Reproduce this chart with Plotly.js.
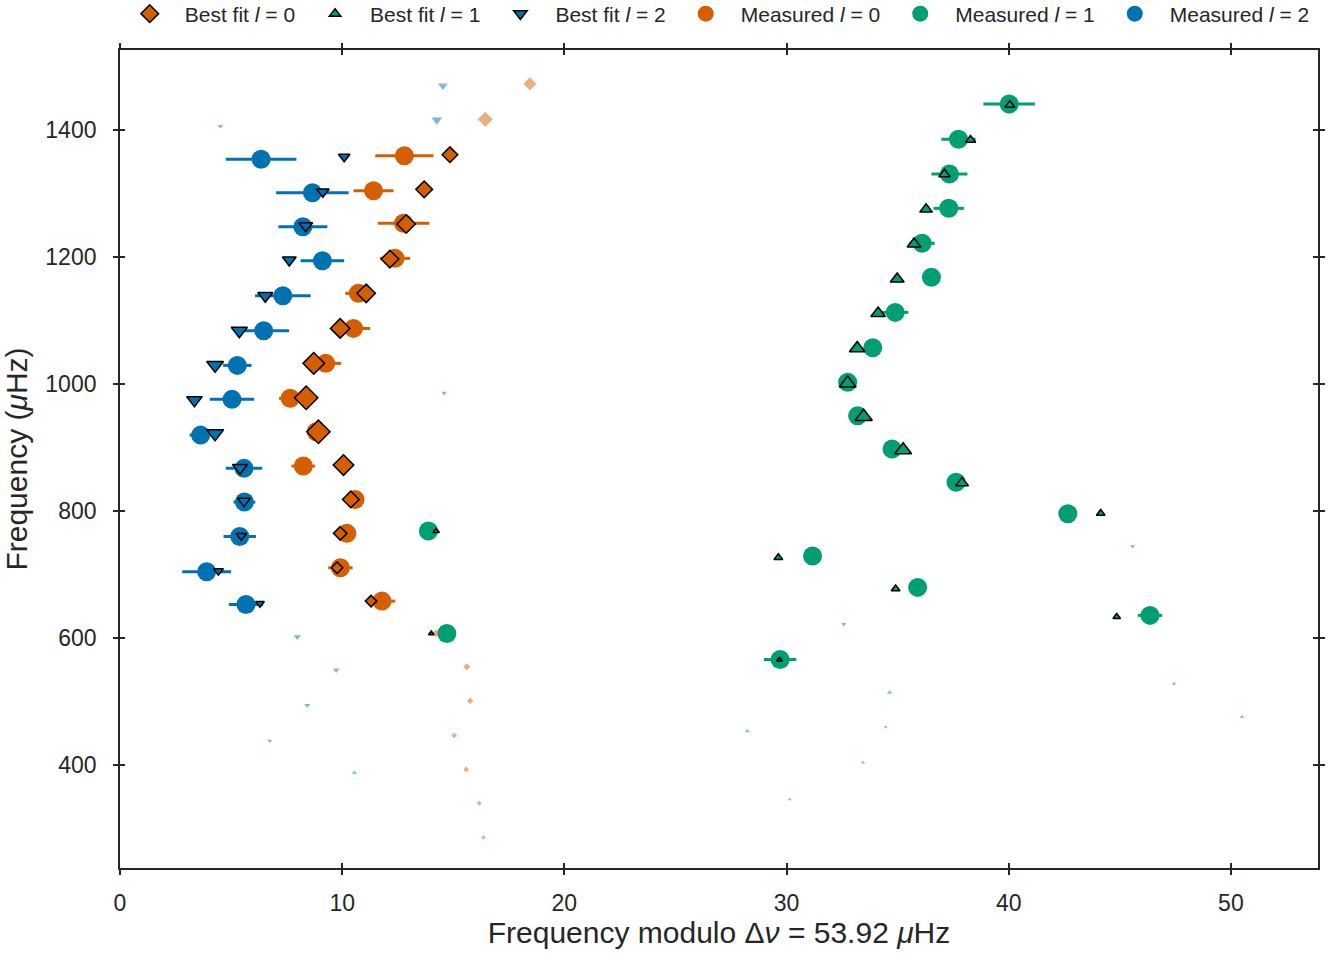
<!DOCTYPE html>
<html>
<head>
<meta charset="utf-8">
<script src="https://cdn.plot.ly/plotly-3.0.1.min.js"></script>
<style>html,body{margin:0;padding:0;background:#fff;}#chart{width:1331px;height:954px;}</style>
</head>
<body>
<div id="chart"></div>
<script>
// ---------- data (frequency modulo Δν, frequency in μHz) ----------
const deltaNu = 53.92;

// Measured l = 0
const measL0_x = [12.80, 11.41, 12.76, 12.38, 10.73, 10.51, 9.26, 7.66, 8.83, 8.25, 10.58, 10.21, 9.92, 11.79];
const measL0_y = [1360.0, 1304.8, 1253.5, 1198.3, 1143.2, 1088.0, 1032.9, 977.8, 925.1, 871.1, 818.6, 765.1, 710.9, 658.4];
const measL0_err = [1.31, 0.90, 1.16, 0.68, 0.59, 0.75, 0.69, 0.50, 0.30, 0.53, 0.30, 0.30, 0.55, 0.60];

// Measured l = 1
const measL1_x = [40.02, 37.74, 37.33, 37.30, 36.10, 36.52, 34.89, 33.88, 32.75, 33.20, 34.75, 37.63, 42.66, 31.17, 35.90, 46.36, 29.71, 13.88, 14.71];
const measL1_y = [1441.4, 1385.8, 1331.1, 1277.1, 1222.0, 1168.4, 1113.2, 1057.5, 1003.0, 950.3, 897.9, 845.7, 796.1, 729.6, 680.0, 635.9, 566.5, 768.7, 607.5];
const measL1_err = [1.16, 0.77, 0.81, 0.68, 0.57, 0.30, 0.59, 0.30, 0.30, 0.30, 0.30, 0.30, 0.30, 0.30, 0.30, 0.55, 0.73, 0.30, 0.30];

// Measured l = 2
const measL2_x = [6.35, 8.66, 8.23, 9.11, 7.33, 6.47, 5.28, 5.04, 3.63, 5.58, 5.60, 5.39, 3.90, 5.67];
const measL2_y = [1354.3, 1301.7, 1248.1, 1194.5, 1139.4, 1084.3, 1029.7, 976.2, 919.9, 867.5, 814.4, 760.3, 704.6, 653.2];
const measL2_err = [1.59, 1.63, 1.10, 0.98, 1.25, 1.14, 0.64, 1.00, 0.50, 0.82, 0.49, 0.73, 1.10, 0.77];

// Best fit l = 0 (within observed range) with relative weight
const fitL0_x = [14.85, 13.69, 12.88, 12.15, 11.08, 9.91, 8.72, 8.38, 8.93, 10.06, 10.39, 9.91, 9.77, 11.30];
const fitL0_y = [1361.6, 1307.0, 1252.4, 1197.2, 1143.2, 1088.0, 1032.9, 978.7, 925.1, 872.7, 818.6, 765.1, 710.9, 658.4];
const fitL0_w = [0.60, 0.64, 0.71, 0.68, 0.71, 0.75, 0.83, 0.90, 0.90, 0.79, 0.64, 0.52, 0.44, 0.44];

// Best fit l = 1
const fitL1_x = [40.05, 38.28, 37.11, 36.28, 35.74, 34.98, 34.12, 33.18, 32.75, 33.47, 35.25, 37.90, 44.14, 29.63, 34.91, 44.86, 29.68, 14.23, 14.01];
const fitL1_y = [1439.9, 1384.7, 1330.7, 1275.5, 1220.9, 1165.7, 1111.7, 1056.5, 1001.4, 948.8, 896.3, 844.6, 796.7, 726.9, 677.9, 633.6, 566.0, 768.7, 607.5];
const fitL1_w = [0.43, 0.45, 0.50, 0.55, 0.60, 0.60, 0.63, 0.68, 0.73, 0.75, 0.73, 0.55, 0.38, 0.38, 0.38, 0.33, 0.25, 0.28, 0.25];

// Best fit l = 2
const fitL2_x = [10.09, 9.13, 8.36, 7.62, 6.54, 5.37, 4.28, 3.35, 4.28, 5.40, 5.58, 5.46, 4.43, 6.30];
const fitL2_y = [1358.4, 1303.3, 1249.7, 1195.6, 1139.4, 1084.3, 1030.2, 975.1, 922.6, 868.4, 815.9, 761.3, 706.1, 654.8];
const fitL2_w = [0.50, 0.55, 0.60, 0.60, 0.65, 0.70, 0.73, 0.68, 0.75, 0.65, 0.55, 0.45, 0.43, 0.38];

// Best fit modes outside observed range (faint)
const extL0_x = [18.45, 16.44, 14.22, 15.61, 15.76, 15.04, 15.58, 16.17, 16.36];
const extL0_y = [1473.4, 1417.3, 607.5, 554.9, 501.3, 446.8, 393.2, 340.1, 286.1];
const extL0_w = [0.50, 0.58, 0.30, 0.28, 0.25, 0.22, 0.22, 0.19, 0.17];

const extL1_x = [10.55, 34.64, 28.23, 50.50, 33.44, 30.14];
const extL1_y = [387.9, 514.4, 453.7, 476.1, 404.1, 346.1];
const extL1_w = [0.23, 0.25, 0.23, 0.21, 0.20, 0.18];

const extL2_x = [14.53, 14.26, 4.52, 14.59, 7.98, 9.73, 8.43, 6.74, 45.57, 32.57, 47.44, 34.46];
const extL2_y = [1470.3, 1416.2, 1406.3, 986.1, 602.1, 549.7, 494.1, 438.3, 744.6, 622.0, 528.2, 460.0];
const extL2_w = [0.43, 0.48, 0.24, 0.24, 0.32, 0.30, 0.26, 0.22, 0.22, 0.22, 0.20, 0.18];

// ---------- styling ----------
const C0 = '#D55E00', C1 = '#009E73', C2 = '#0072B2';
const SIZE_SCALE = 20;
const toSize = w => w.map(v => v * SIZE_SCALE);
const FONT = 'Liberation Sans, Arial, sans-serif';
const INK = '#262626';

function measured(x, y, err, color, name, rank) {
  return {
    type: 'scatter', mode: 'markers', name: name, legendrank: rank,
    x: x, y: y,
    error_x: {type: 'data', array: err, visible: true, color: color, thickness: 3, width: 0},
    marker: {color: color, size: 19, symbol: 'circle', opacity: 1, line: {width: 0}},
    hoverinfo: 'x+y'
  };
}
function fitted(x, y, w, color, symbol, name, rank) {
  return {
    type: 'scatter', mode: 'markers', name: name, legendrank: rank,
    x: x, y: y,
    marker: {color: color, size: toSize(w), symbol: symbol, opacity: 1, line: {color: '#000', width: 1.5}},
    hoverinfo: 'x+y'
  };
}
function faint(x, y, w, color, symbol) {
  return {
    type: 'scatter', mode: 'markers', showlegend: false,
    x: x, y: y,
    marker: {color: color, size: toSize(w), symbol: symbol, opacity: 0.5, line: {width: 0}},
    hoverinfo: 'x+y'
  };
}

const traces = [
  measured(measL0_x, measL0_y, measL0_err, C0, 'Measured <i>l</i> = 0', 4),
  measured(measL1_x, measL1_y, measL1_err, C1, 'Measured <i>l</i> = 1', 5),
  measured(measL2_x, measL2_y, measL2_err, C2, 'Measured <i>l</i> = 2', 6),
  faint(extL0_x, extL0_y, extL0_w, C0, 'diamond'),
  faint(extL1_x, extL1_y, extL1_w, C1, 'triangle-up'),
  faint(extL2_x, extL2_y, extL2_w, C2, 'triangle-down'),
  fitted(fitL0_x, fitL0_y, fitL0_w, C0, 'diamond', 'Best fit <i>l</i> = 0', 1),
  fitted(fitL1_x, fitL1_y, fitL1_w, C1, 'triangle-up', 'Best fit <i>l</i> = 1', 2),
  fitted(fitL2_x, fitL2_y, fitL2_w, C2, 'triangle-down', 'Best fit <i>l</i> = 2', 3),
  // empty trace to host the inward tick overlay axes
  {type: 'scatter', mode: 'markers', x: [], y: [], xaxis: 'x2', yaxis: 'y2', showlegend: false, hoverinfo: 'skip'}
];

const xRange = [0, deltaNu];
const yRange = [238, 1526.5];
const xTicks = [0, 10, 20, 30, 40, 50];
const yTicks = [400, 600, 800, 1000, 1200, 1400];

const layout = {
  width: 1331, height: 954,
  margin: {l: 120, r: 13, t: 50, b: 86},
  paper_bgcolor: '#fff', plot_bgcolor: '#fff',
  font: {family: FONT, color: INK, size: 23},
  showlegend: true,
  legend: {
    orientation: 'h', xref: 'container', yref: 'container',
    x: 0.537, xanchor: 'center', y: 1 - 14 / 954, yanchor: 'middle',
    font: {size: 21, color: INK}, itemwidth: 60, bgcolor: 'rgba(0,0,0,0)'
  },
  xaxis: {
    range: xRange, tickvals: xTicks, ticktext: xTicks.map(String),
    showgrid: false, zeroline: false,
    showline: true, linecolor: INK, linewidth: 1.8, mirror: 'ticks',
    ticks: 'outside', ticklen: 5, tickwidth: 1.8, tickcolor: INK,
    ticklabelstandoff: 8,
    tickfont: {size: 23, color: INK},
    title: {text: 'Frequency modulo Δ<i>ν</i> = 53.92 <i>μ</i>Hz', font: {size: 30, color: INK}, standoff: 2}
  },
  yaxis: {
    range: yRange, tickvals: yTicks, ticktext: yTicks.map(String),
    showgrid: false, zeroline: false,
    showline: true, linecolor: INK, linewidth: 1.8, mirror: 'ticks',
    ticks: 'outside', ticklen: 5, tickwidth: 1.8, tickcolor: INK,
    ticklabelstandoff: 12,
    tickfont: {size: 23, color: INK},
    title: {text: 'Frequency (<i>μ</i>Hz)', font: {size: 30, color: INK}, standoff: 10}
  },
  xaxis2: {
    overlaying: 'x', anchor: 'y2', range: xRange, tickvals: xTicks,
    showticklabels: false, showgrid: false, zeroline: false, showline: false,
    ticks: 'inside', ticklen: 5, tickwidth: 1.8, tickcolor: INK, mirror: 'ticks'
  },
  yaxis2: {
    overlaying: 'y', anchor: 'x2', range: yRange, tickvals: yTicks,
    showticklabels: false, showgrid: false, zeroline: false, showline: false,
    ticks: 'inside', ticklen: 5, tickwidth: 1.8, tickcolor: INK, mirror: 'ticks'
  }
};

Plotly.newPlot('chart', traces, layout, {displayModeBar: false});
</script>
</body>
</html>
